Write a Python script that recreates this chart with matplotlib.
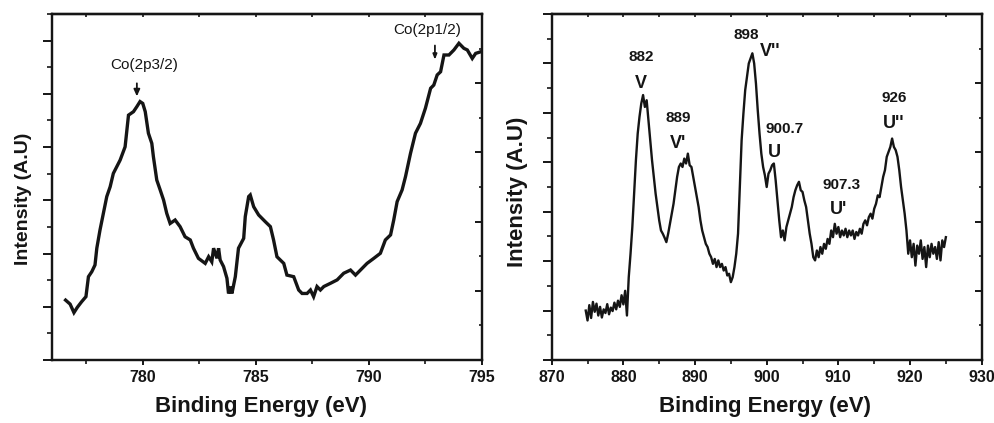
import matplotlib
matplotlib.use("Agg")
import matplotlib.pyplot as plt
from matplotlib.ticker import MultipleLocator, FixedLocator, NullFormatter

plt.rcParams['font.family'] = ['Liberation Sans', 'DejaVu Sans']

# ---------------- data ----------------
# Left panel: Co 2p region
co_energy = [776.60, 776.80, 776.97, 777.12, 777.31, 777.50, 777.61, 777.76, 777.90, 777.98,
             778.12, 778.27, 778.42, 778.57, 778.71, 778.86, 779.01, 779.23, 779.38, 779.60,
             779.75, 779.89, 780.01, 780.12, 780.26, 780.41, 780.48, 780.63, 780.78, 780.93,
             781.07, 781.22, 781.44, 781.66, 781.88, 782.11, 782.25, 782.47, 782.77, 782.92,
             783.06, 783.14, 783.29, 783.36, 783.43, 783.58, 783.73, 783.80, 783.88, 783.95,
             784.10, 784.24, 784.47, 784.54, 784.69, 784.76, 784.91, 785.13, 785.42, 785.65,
             785.79, 785.94, 786.24, 786.38, 786.68, 786.90, 787.05, 787.27, 787.42, 787.56,
             787.71, 787.86, 788.01, 788.30, 788.60, 788.89, 789.19, 789.41, 789.63, 789.92,
             790.22, 790.51, 790.73, 790.96, 791.10, 791.25, 791.47, 791.62, 791.84, 792.06,
             792.28, 792.50, 792.73, 792.87, 793.02, 793.17, 793.32, 793.54, 793.76, 793.98,
             794.20, 794.35, 794.57, 794.72, 794.94]
co_intensity = [225, 210, 178, 198, 219, 238, 313, 332, 357, 420,
                488, 551, 614, 651, 701, 726, 751, 801, 920, 933,
                952, 971, 964, 933, 852, 814, 764, 676, 639, 601,
                551, 513, 526, 501, 463, 451, 420, 382, 363, 388,
                369, 420, 382, 420, 376, 351, 307, 250, 276, 250,
                313, 420, 457, 539, 614, 620, 576, 545, 520, 501,
                451, 388, 363, 319, 313, 263, 250, 250, 263, 238,
                276, 263, 276, 288, 301, 326, 338, 319, 338, 363,
                382, 401, 451, 470, 526, 595, 639, 689, 776, 852,
                889, 946, 1021, 1033, 1071, 1083, 1146, 1146, 1165, 1190,
                1171, 1165, 1133, 1152, 1158]

# Right panel: Ce 3d region
ce_energy = [874.75, 875.0, 875.25, 875.5, 875.75, 876.0, 876.25, 876.5, 876.75, 877.0,
             877.25, 877.5, 877.75, 878.0, 878.25, 878.5, 878.75, 879.0, 879.25, 879.5,
             879.75, 880.0, 880.25, 880.5, 880.75, 881.0, 881.25, 881.5, 881.75, 882.0,
             882.25, 882.5, 882.75, 883.0, 883.25, 883.5, 883.75, 884.0, 884.25, 884.5,
             884.75, 885.0, 885.25, 885.5, 885.75, 886.0, 886.25, 886.5, 886.75, 887.0,
             887.25, 887.5, 887.75, 888.0, 888.25, 888.5, 888.75, 889.0, 889.25, 889.5,
             889.75, 890.0, 890.25, 890.5, 890.75, 891.0, 891.25, 891.5, 891.75, 892.0,
             892.25, 892.5, 892.75, 893.0, 893.25, 893.5, 893.75, 894.0, 894.25, 894.5,
             894.75, 895.0, 895.25, 895.5, 895.75, 896.0, 896.25, 896.5, 896.75, 897.0,
             897.25, 897.5, 897.75, 898.0, 898.25, 898.5, 898.75, 899.0, 899.25, 899.5,
             899.75, 900.0, 900.25, 900.5, 900.75, 901.0, 901.25, 901.5, 901.75, 902.0,
             902.25, 902.5, 902.75, 903.0, 903.25, 903.5, 903.75, 904.0, 904.25, 904.5,
             904.75, 905.0, 905.25, 905.5, 905.75, 906.0, 906.25, 906.5, 906.75, 907.0,
             907.25, 907.5, 907.75, 908.0, 908.25, 908.5, 908.75, 909.0, 909.25, 909.5,
             909.75, 910.0, 910.25, 910.5, 910.75, 911.0, 911.25, 911.5, 911.75, 912.0,
             912.25, 912.5, 912.75, 913.0, 913.25, 913.5, 913.75, 914.0, 914.25, 914.5,
             914.75, 915.0, 915.25, 915.5, 915.75, 916.0, 916.25, 916.5, 916.75, 917.0,
             917.25, 917.5, 917.75, 918.0, 918.25, 918.5, 918.75, 919.0, 919.25, 919.5,
             919.75, 920.0, 920.25, 920.5, 920.75, 921.0, 921.25, 921.5, 921.75, 922.0,
             922.25, 922.5, 922.75, 923.0, 923.25, 923.5, 923.75, 924.0, 924.25, 924.5,
             924.75, 925.0]
ce_intensity = [200, 160, 222, 170, 235, 195, 228, 180, 215, 172,
                205, 190, 226, 185, 212, 198, 232, 205, 240, 215,
                262, 225, 280, 180, 335, 430, 538, 673, 808, 916,
                984, 1038, 1072, 1024, 1051, 970, 889, 808, 741, 673,
                619, 565, 524, 511, 495, 477, 511, 551, 592, 632,
                687, 741, 781, 795, 781, 815, 795, 835, 788, 781,
                741, 700, 659, 619, 565, 524, 497, 470, 457, 430,
                416, 389, 409, 376, 403, 376, 389, 362, 376, 342,
                349, 315, 335, 376, 430, 511, 700, 889, 997, 1092,
                1146, 1200, 1220, 1241, 1200, 1119, 1011, 916, 835, 781,
                747, 700, 754, 768, 788, 795, 727, 646, 565, 497,
                524, 484, 538, 565, 592, 619, 659, 687, 707, 721,
                687, 680, 646, 619, 565, 511, 470, 416, 403, 443,
                416, 457, 430, 470, 450, 490, 470, 524, 497, 551,
                511, 538, 497, 524, 504, 531, 497, 524, 504, 524,
                490, 518, 504, 531, 511, 551, 565, 545, 578, 592,
                572, 612, 632, 666, 659, 700, 741, 768, 822, 842,
                862, 896, 862, 849, 822, 768, 700, 646, 592, 524,
                430, 484, 416, 470, 382, 463, 430, 484, 409, 457,
                376, 463, 416, 470, 430, 457, 409, 477, 403, 484,
                457, 497]

co_xticks = [780, 785, 790, 795]
ce_xticks = [870, 880, 890, 900, 910, 920, 930]

ce_numbers = ["882", "889", "898", "900.7", "907.3", "926"]
ce_letters = ["V", "V'", "V''", "U", "U'", "U''"]

# ---------------- figure ----------------
W, H = 995, 423
fig = plt.figure(figsize=(W / 100, H / 100), dpi=100)
ax1 = fig.add_axes([52 / W, 1 - 360 / H, 430 / W, 346 / H])
ax2 = fig.add_axes([551.7 / W, 1 - 360 / H, 430 / W, 346 / H])

LC = '#151515'
ax1.plot(co_energy, co_intensity, color=LC, lw=2.4, solid_joinstyle='miter')
ax2.plot(ce_energy, ce_intensity, color=LC, lw=1.7)

ax1.set_xlim(776, 795)
ax1.set_ylim(0, 1300)
ax2.set_xlim(870, 930)
ax2.set_ylim(0, 1400)

for ax, xt, xminor, ymaj in ((ax1, co_xticks, 2.5, 200), (ax2, ce_xticks, 5, 200)):
    for s in ax.spines.values():
        s.set_linewidth(1.6)
        s.set_color(LC)
    ax.xaxis.set_major_locator(FixedLocator(xt))
    ax.xaxis.set_minor_locator(MultipleLocator(xminor))
    ax.yaxis.set_major_locator(MultipleLocator(ymaj))
    ax.yaxis.set_minor_locator(MultipleLocator(ymaj / 2))
    ax.yaxis.set_major_formatter(NullFormatter())
    ax.tick_params(axis='x', which='major', direction='out', length=3.5, width=1.4,
                   pad=4, labelsize=11.5, colors=LC)
    ax.tick_params(axis='x', which='minor', direction='out', length=3.0, width=1.2, colors=LC)
    ax.tick_params(axis='y', which='major', direction='out', length=6.5, width=1.4, colors=LC)
    ax.tick_params(axis='y', which='minor', direction='out', length=3.5, width=1.2, colors=LC)
    for lab in ax.get_xticklabels():
        lab.set_fontweight('bold')
    # right-hand axis with its own tick spacing
    axr = ax.twinx()
    axr.set_ylim(0, 10)
    axr.yaxis.set_major_locator(FixedLocator([2, 4, 6, 8]))
    axr.yaxis.set_minor_locator(FixedLocator([1, 3, 5, 7, 9]))
    axr.yaxis.set_major_formatter(NullFormatter())
    axr.tick_params(axis='y', which='major', direction='in', length=5, width=1.4, colors=LC)
    axr.tick_params(axis='y', which='minor', direction='in', length=2.5, width=1.2, colors=LC)
    for s in axr.spines.values():
        s.set_linewidth(1.6)
        s.set_color(LC)
    # top ticks
    sec = ax.secondary_xaxis('top')
    sec.xaxis.set_major_locator(FixedLocator(xt))
    sec.xaxis.set_minor_locator(MultipleLocator(xminor))
    sec.xaxis.set_major_formatter(NullFormatter())
    sec.tick_params(which='both', direction='in', length=2.5, width=1.2, colors=LC)
    sec.spines['top'].set_linewidth(1.6)

ax1.set_xlabel("Binding Energy (eV)", fontsize=16, fontweight='bold', color=LC)
ax2.set_xlabel("Binding Energy (eV)", fontsize=16, fontweight='bold', color=LC)
ax1.xaxis.set_label_coords(0.486, -0.105)
ax2.xaxis.set_label_coords(0.496, -0.105)
ax1.set_ylabel("Intensity (A.U)", fontsize=14, fontweight='bold', color=LC)
ax2.set_ylabel("Intensity (A.U)", fontsize=16, fontweight='bold', color=LC)
ax1.yaxis.set_label_coords(-0.047, 0.465)
ax2.yaxis.set_label_coords(-0.055, 0.486)

# ---- annotations left ----
ax1.text(780.07, 1108, "Co(2p3/2)", ha='center', va='center', fontsize=11, color=LC)
ax1.annotate("", xy=(779.75, 980), xytext=(779.75, 1050),
             arrowprops=dict(arrowstyle='-|>,head_width=0.18,head_length=0.4', color=LC, lw=1.3))
ax1.text(792.6, 1240, "Co(2p1/2)", ha='center', va='center', fontsize=11, color=LC)
ax1.annotate("", xy=(792.92, 1118), xytext=(792.92, 1192),
             arrowprops=dict(arrowstyle='-|>,head_width=0.12,head_length=0.3', color=LC, lw=1.3))

# ---- annotations right ----
num_pos = [(882.56, 1227), (887.66, 978), (897.11, 1315), (902.55, 933), (910.46, 708), (917.80, 1059)]
let_pos = [(882.42, 1120), (887.66, 877), (900.46, 1247), (901.02, 839), (909.99, 610), (917.66, 958)]
for t, (x, y) in zip(ce_numbers, num_pos):
    ax2.text(x, y, t, ha='center', va='center', fontsize=11, fontweight='bold', color=LC)
for t, (x, y) in zip(ce_letters, let_pos):
    ax2.text(x, y, t, ha='center', va='center', fontsize=13, fontweight='bold', color=LC)

fig.savefig("out.png", dpi=100, facecolor='white')
